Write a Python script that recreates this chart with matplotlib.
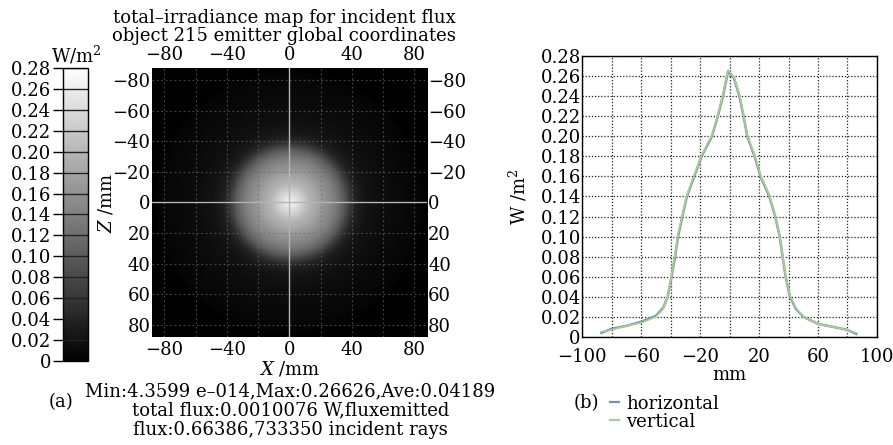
import numpy as np
import matplotlib
matplotlib.use('Agg')
import matplotlib.pyplot as plt
import matplotlib.ticker as mticker
from matplotlib.lines import Line2D

plt.rcParams['font.family'] = ['DejaVu Serif']
plt.rcParams['mathtext.fontset'] = 'dejavuserif'

# ── Data ────────────────────────────────────────────────────────────────
prof_x = [-87, -80, -70, -60, -50, -45, -42, -40, -37, -35, -32, -29, -24,
          -19, -12, -8, -4.5, -1, 3, 6.7, 9.5, 12, 17, 21, 27, 31, 34, 36,
          38, 41, 45, 50, 60, 70, 80, 86]
horiz = [0.004, 0.008, 0.011, 0.015, 0.021, 0.029, 0.040, 0.055, 0.080,
         0.100, 0.120, 0.140, 0.160, 0.180, 0.200, 0.220, 0.240, 0.265,
         0.258, 0.240, 0.220, 0.200, 0.180, 0.160, 0.140, 0.120, 0.100,
         0.080, 0.060, 0.040, 0.028, 0.020, 0.013, 0.010, 0.007, 0.003]
vert = [0.005, 0.007, 0.011, 0.014, 0.020, 0.028, 0.040, 0.056, 0.082,
        0.102, 0.121, 0.141, 0.161, 0.181, 0.201, 0.221, 0.242, 0.266,
        0.259, 0.241, 0.221, 0.201, 0.181, 0.161, 0.141, 0.121, 0.100,
        0.081, 0.061, 0.041, 0.029, 0.020, 0.013, 0.010, 0.007, 0.004]

map_extent = 88
cbar_ticks = np.arange(0, 0.2801, 0.02)
cbar_labels = ['0'] + [f'{t:.2f}' for t in cbar_ticks[1:]]
map_ticks_x = [-80, -40, 0, 40, 80]
map_ticks_z = [-80, -60, -40, -20, 0, 20, 40, 60, 80]
prof_xticks = [-100, -60, -20, 20, 60, 100]
prof_yticks = np.arange(0, 0.2801, 0.02)
prof_ylabels = ['0'] + [f'{t:.2f}' for t in prof_yticks[1:]]

title_txt = ('total\u2013irradiance map for incident flux\n'
             'object 215 emitter global coordinates')
stats_txt = ('Min:4.3599 e\u2013014,Max:0.26626,Ave:0.04189\n'
             'total flux:0.0010076 W,fluxemitted\n'
             'flux:0.66386,733350 incident rays')

# irradiance map built from the radial profile
g = np.linspace(-map_extent, map_extent, 400)
X, Z = np.meshgrid(g, g)
R = np.hypot(X, Z)
px = np.array(prof_x, float)
ph = np.array(horiz)
img = 0.5 * (np.interp(R, px, ph, left=0, right=0) +
             np.interp(-R, px, ph, left=0, right=0))

FS = 13
fig = plt.figure(figsize=(8.93, 4.45), dpi=100)

# ── (a) map ─────────────────────────────────────────────────────────────
ax = fig.add_axes([0.170, 0.243, 0.308, 0.604])
im = ax.imshow(img, cmap='gray', vmin=0, vmax=0.28, origin='upper',
               extent=[-map_extent, map_extent, map_extent, -map_extent],
               interpolation='bilinear', aspect='auto')
for v in [-80, -60, -40, -20, 20, 40, 60, 80]:
    ax.axvline(v, color='#6a6a6a', lw=0.8, ls=(0, (1.5, 2.5)), alpha=0.7)
    ax.axhline(v, color='#6a6a6a', lw=0.8, ls=(0, (1.5, 2.5)), alpha=0.7)
ax.axvline(0, color='#b5b5b5', lw=1.0)
ax.axhline(0, color='#b5b5b5', lw=1.0)
ax.set_xlim(-map_extent, map_extent)
ax.set_ylim(map_extent, -map_extent)
ax.set_xticks(map_ticks_x)
ax.set_yticks(map_ticks_z)
ax.set_yticklabels([str(t).replace('-', '\u2212') for t in map_ticks_z])
ax.tick_params(axis='both', length=0, labelsize=FS, pad=1,
               top=True, labeltop=True, right=True, labelright=True)
ax.tick_params(axis='x', pad=3)
ax.set_xlabel('$X$ /mm', fontsize=FS, labelpad=0)
ax.set_ylabel('$Z$ /mm', fontsize=FS, labelpad=-2)
for s in ax.spines.values():
    s.set_visible(False)

fig.text(0.318, 0.939, title_txt, ha='center', va='center', fontsize=FS,
         linespacing=1.0)
fig.text(0.325, 0.077, stats_txt, ha='center', va='center', fontsize=FS,
         linespacing=1.12)
fig.text(0.068, 0.097, '(a)', ha='center', va='center', fontsize=FS)

# colorbar
cax = fig.add_axes([0.070, 0.189, 0.028, 0.658])
cb = fig.colorbar(im, cax=cax)
cb.set_ticks(cbar_ticks)
cb.set_ticklabels(cbar_labels)
cax.yaxis.set_ticks_position('left')
cax.yaxis.set_label_position('left')
cax.tick_params(axis='y', length=7, width=1.0, labelsize=FS, pad=1)
cax.hlines(cbar_ticks, 0, 1, transform=cax.get_yaxis_transform(),
           color='#222222', lw=1.0)
cb.outline.set_linewidth(1.0)
fig.text(0.085, 0.877, 'W/m$^2$', ha='center', va='center', fontsize=FS)

# ── (b) profiles ────────────────────────────────────────────────────────
bx = fig.add_axes([0.652, 0.243, 0.330, 0.631])
bx.plot(prof_x, horiz, color='#7f8fb0', lw=1.8, label='horizontal')
bx.plot(prof_x, vert, color='#a9d08e', lw=1.2, label='vertical')
bx.set_xlim(-100, 100)
bx.set_ylim(0, 0.28)
bx.set_xticks(prof_xticks)
bx.set_xticklabels([str(t).replace('-', '\u2212') for t in prof_xticks])
bx.xaxis.set_minor_locator(mticker.MultipleLocator(20))
bx.set_yticks(prof_yticks)
bx.set_yticklabels(prof_ylabels)
bx.grid(True, which='both', color='#222222', lw=0.9, ls=(0, (1, 1.5)))
bx.tick_params(axis='both', which='both', length=0, labelsize=FS, pad=1)
bx.tick_params(axis='x', which='major', pad=8)
bx.set_xlabel('mm', fontsize=FS, labelpad=0)
bx.set_ylabel('W /m$^2$', fontsize=FS, labelpad=8)
for s in bx.spines.values():
    s.set_linewidth(1.0)

handles = [Line2D([], [], color='#7f8fb0', lw=1.6),
           Line2D([], [], color='#a9d08e', lw=1.6)]
fig.legend(handles, ['horizontal', 'vertical'], loc='center left',
           bbox_to_anchor=(0.683, 0.073), frameon=False, fontsize=FS,
           handlelength=0.5, handletextpad=0.4, labelspacing=0.0,
           borderaxespad=0, borderpad=0)
fig.text(0.657, 0.094, '(b)', ha='center', va='center', fontsize=FS)

fig.savefig('out.png', dpi=100)
